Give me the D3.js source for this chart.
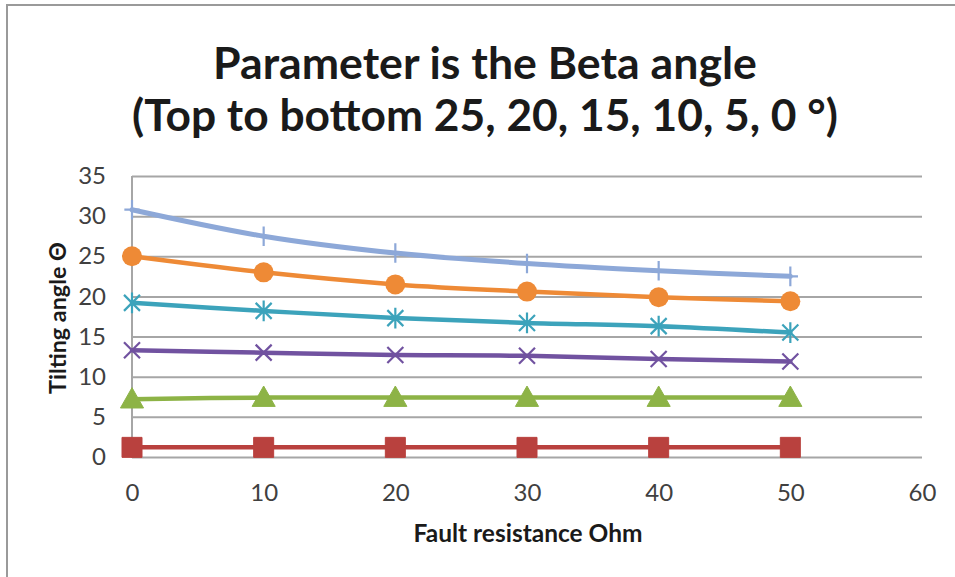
<!DOCTYPE html>
<html>
<head>
<meta charset="utf-8">
<script src="https://cdn.jsdelivr.net/npm/d3@7"></script>
<style>
  html, body { margin: 0; padding: 0; background: #fff; }
  svg { display: block; }
  text { font-family: Lato, "Open Sans", "DejaVu Sans", sans-serif; fill: #1a1a1a; }
</style>
</head>
<body>
<svg id="chart" width="955" height="577"></svg>
<script>
// Fault resistance (Ohm) on the x axis
const resistance = [0, 10, 20, 30, 40, 50];

// Tilting angle for each Beta angle
const beta25 = [30.8, 27.5, 25.4, 24.1, 23.2, 22.5];
const beta20 = [25.0, 23.0, 21.5, 20.6, 19.9, 19.4];
const beta15 = [19.2, 18.2, 17.3, 16.7, 16.3, 15.5];
const beta10 = [13.3, 13.0, 12.7, 12.6, 12.2, 11.9];
const beta5  = [7.2, 7.4, 7.4, 7.4, 7.4, 7.4];
const beta0  = [1.2, 1.2, 1.2, 1.2, 1.2, 1.2];

const xTicks = [0, 10, 20, 30, 40, 50, 60];
const yTicks = [0, 5, 10, 15, 20, 25, 30, 35];

const titleLines = ["Parameter is the Beta angle", "(Top to bottom 25, 20, 15, 10, 5, 0 °)"];
const xTitle = "Fault resistance Ohm";
const yTitle = "Tilting angle Θ";

const series = [
  { name: "0°",  values: beta0,  color: "#B9413E", marker: "square" },
  { name: "5°",  values: beta5,  color: "#8DB346", marker: "triangle" },
  { name: "10°", values: beta10, color: "#7152A0", marker: "x" },
  { name: "15°", values: beta15, color: "#3CA3BB", marker: "asterisk" },
  { name: "20°", values: beta20, color: "#EE8A36", marker: "circle" },
  { name: "25°", values: beta25, color: "#8DA8D8", marker: "plus" }
];

const svg = d3.select("#chart");

// chart frame
svg.append("line").attr("x1", 7).attr("x2", 7).attr("y1", 4).attr("y2", 577)
  .attr("stroke", "#9a9a9a").attr("stroke-width", 2);
svg.append("line").attr("x1", 7).attr("x2", 955).attr("y1", 5).attr("y2", 5)
  .attr("stroke", "#9a9a9a").attr("stroke-width", 2);

const plot = { left: 132, right: 922, top: 176, bottom: 457 };

const x = d3.scaleLinear().domain([0, 60]).range([plot.left, plot.right]);
const y = d3.scaleLinear().domain([0, 35]).range([plot.bottom, plot.top]);

// scale a text element so it spans the given width
function fitWidth(el, size, width) {
  el.attr("font-size", size);
  const w = el.node().getComputedTextLength();
  el.attr("font-size", size * width / w);
}

// horizontal gridlines
const yAxis = d3.axisLeft(y).tickValues(yTicks).tickSize(-(plot.right - plot.left)).tickPadding(26);
const gy = svg.append("g").attr("transform", `translate(${plot.left},0)`).call(yAxis);
gy.select(".domain").remove();
gy.selectAll(".tick line").attr("stroke", "#a6a6a6").attr("stroke-width", 2);
gy.selectAll(".tick text").attr("font-size", 24).attr("font-family", "Lato, sans-serif")
  .style("fill", "#404040");

// vertical value axis line
svg.append("line").attr("x1", plot.left).attr("x2", plot.left)
  .attr("y1", plot.top).attr("y2", plot.bottom + 1)
  .attr("stroke", "#a6a6a6").attr("stroke-width", 2);

// x tick labels
const xAxis = d3.axisBottom(x).tickValues(xTicks).tickSize(0).tickPadding(27);
const gx = svg.append("g").attr("transform", `translate(0,${plot.bottom})`).call(xAxis);
gx.select(".domain").remove();
gx.selectAll(".tick text").attr("font-size", 24).attr("font-family", "Lato, sans-serif")
  .style("fill", "#404040");

// axis titles
const xt = svg.append("text").attr("x", 528).attr("y", 542).attr("text-anchor", "middle")
  .attr("font-weight", "bold").text(xTitle);
fitWidth(xt, 22, 229);
const yt = svg.append("text").attr("transform", "translate(66,318) rotate(-90)")
  .attr("text-anchor", "middle").attr("font-weight", "bold").text(yTitle);
fitWidth(yt, 22, 152);

// chart title, each line sized to its span
const titleSpec = [
  { text: titleLines[0], cx: 485, y: 79, width: 544 },
  { text: titleLines[1], cx: 485, y: 131, width: 706 }
];
titleSpec.forEach(t => {
  const el = svg.append("text").attr("x", t.cx).attr("y", t.y).attr("text-anchor", "middle")
    .attr("font-weight", "bold").text(t.text);
  fitWidth(el, 40, t.width);
});

// series lines and markers
const line = d3.line().x((d, i) => x(resistance[i])).y(d => y(d)).curve(d3.curveCatmullRom.alpha(0.5));

const markerPath = {
  square: s => `M${-s},${-s}H${s}V${s}H${-s}Z`,
  triangle: s => `M0,${-s * 1.05}L${s * 1.05},${s * 0.8}L${-s * 1.05},${s * 0.8}Z`,
  x: s => `M${-s},${-s}L${s},${s}M${-s},${s}L${s},${-s}`,
  asterisk: s => `M${-s},${-s}L${s},${s}M${-s},${s}L${s},${-s}M0,${-s * 1.3}V${s * 1.3}`,
  plus: s => `M${-s * 0.9},0H${s * 0.9}M0,${-s * 1.15}V${s * 1.15}`
};

series.forEach(s => {
  svg.append("path").attr("d", line(s.values)).attr("fill", "none")
    .attr("stroke", s.color).attr("stroke-width", s.marker === "plus" ? 5 : 4.5)
    .attr("stroke-linejoin", "round").attr("stroke-linecap", "round");
  const g = svg.append("g");
  s.values.forEach((v, i) => {
    const cx = x(resistance[i]), cy = y(v);
    if (s.marker === "circle") {
      g.append("circle").attr("cx", cx).attr("cy", cy).attr("r", 10).attr("fill", s.color);
    } else if (s.marker === "square" || s.marker === "triangle") {
      g.append("path").attr("transform", `translate(${cx},${cy})`)
        .attr("d", markerPath[s.marker](s.marker === "square" ? 10 : 11)).attr("fill", s.color)
        .attr("stroke", s.color).attr("stroke-width", 1);
    } else {
      const size = s.marker === "plus" ? 8.5 : 8;
      g.append("path").attr("transform", `translate(${cx},${cy})`)
        .attr("d", markerPath[s.marker](size)).attr("fill", "none")
        .attr("stroke", s.color).attr("stroke-width", 2.2);
    }
  });
});
</script>
</body>
</html>
